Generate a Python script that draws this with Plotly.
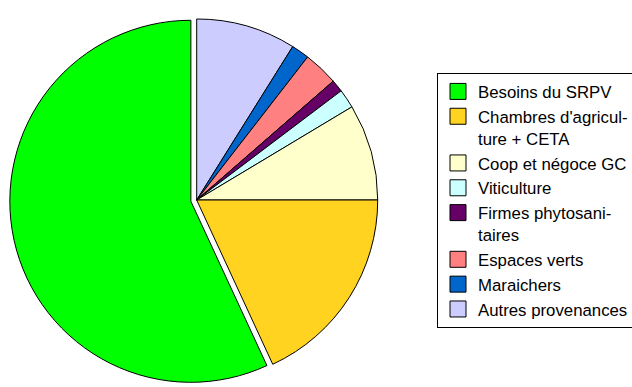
import plotly.graph_objects as go

labels = ["Besoins du SRPV", "Chambres d'agricul-<br>ture + CETA", "Coop et négoce GC",
          "Viticulture", "Firmes phytosani-<br>taires", "Espaces verts", "Maraichers",
          "Autres provenances"]
values = [56.9, 18.1, 8.6, 1.7, 1.1, 3.1, 1.6, 8.9]
colors = ["#00FF00", "#FFD320", "#FFFFCC", "#CCFFFF", "#660066", "#FF8080", "#0066CC", "#CCCCFF"]
pulls = [0.033, 0, 0, 0, 0, 0, 0, 0]

W, H = 632, 387
fig = go.Figure()
# slices run counter-clockwise from 12 o'clock in the original; draw them clockwise in reverse order
fig.add_trace(go.Pie(
    labels=labels[::-1], values=values[::-1], sort=False, direction="clockwise", rotation=0,
    marker=dict(colors=colors[::-1], line=dict(color="#000000", width=1)),
    pull=pulls[::-1], textinfo="none", hoverinfo="label+percent", showlegend=False,
    domain=dict(x=[9.7 / W, 383.7 / W], y=[0, 1 - 13 / H]),
))
for lab, col in zip(labels, colors):
    fig.add_trace(go.Scatter(
        x=[None], y=[None], mode="markers", name=lab,
        marker=dict(symbol="square", size=16, color=col, line=dict(color="#000000", width=1)),
        showlegend=True,
    ))

fig.update_layout(
    width=W, height=H, margin=dict(l=0, r=0, t=0, b=0, autoexpand=False),
    paper_bgcolor="white", plot_bgcolor="white",
    xaxis=dict(visible=False), yaxis=dict(visible=False),
    font=dict(family="Liberation Sans, Arial, sans-serif", size=16.8, color="#000000"),
    legend=dict(x=437 / W, y=1 - 73 / H, xanchor="left", yanchor="top",
                bordercolor="#000000", borderwidth=1, bgcolor="white",
                valign="top", traceorder="normal", itemclick=False, itemdoubleclick=False),
)
fig.write_html("out.html")
